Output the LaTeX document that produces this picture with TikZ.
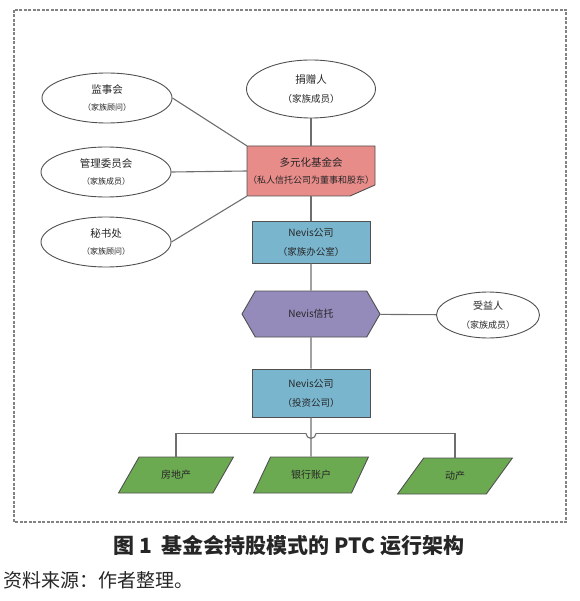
\documentclass[tikz,border=0pt]{standalone}
\usepackage{fontspec}
\setmainfont{Noto Sans CJK SC}
\usetikzlibrary{shapes.geometric,shapes.symbols}

\definecolor{fundred}{RGB}{232,140,138}
\definecolor{officeblue}{RGB}{122,181,206}
\definecolor{trustpurple}{RGB}{149,139,186}
\definecolor{assetgreen}{RGB}{108,170,82}
\definecolor{edgegray}{RGB}{80,80,80}
\definecolor{linegray}{RGB}{110,110,110}
\definecolor{framegray}{RGB}{130,130,130}

\tikzset{
  every node/.style={text=black!85},
  oval/.style={ellipse, draw=edgegray, line width=0.9pt, fill=white,
    minimum width=130pt, minimum height=50pt, inner sep=0pt, align=center,
    font=\fontsize{10.5}{17}\selectfont},
  fundbox/.style={rectangle, minimum width=128pt, minimum height=50pt,
    inner sep=0pt, align=center, font=\fontsize{10.5}{17}\selectfont},
  fundshape/.style={draw=edgegray, line width=0.9pt, fill=fundred},
  bluebox/.style={rectangle, draw=edgegray, line width=0.9pt, fill=officeblue,
    minimum width=118pt, minimum height=42pt, inner sep=0pt, align=center,
    font=\fontsize{10}{19}\selectfont},
  trustbox/.style={signal, signal to=east and west, signal pointer angle=120,
    draw=edgegray, line width=0.9pt, fill=trustpurple,
    minimum width=138pt, minimum height=46pt, inner sep=0pt,
    font=\fontsize{10}{12}\selectfont},
  assetbox/.style={trapezium, trapezium left angle=48, trapezium right angle=132,
    trapezium stretches=true, draw=edgegray, line width=0.9pt, fill=assetgreen,
    minimum width=115pt, minimum height=36pt, inner sep=0pt,
    font=\fontsize{10}{12}\selectfont},
  link/.style={draw=linegray, line width=1.1pt}
}

\begin{document}
\begin{tikzpicture}[x=1pt, y=-1pt]
  \useasboundingbox (0,0) rectangle (579,601);

  % Frame
  \draw[framegray, line width=2.2pt, dash pattern=on 3pt off 1.5pt] (14,10) rectangle (566,522);

  % Left column
  \node[oval] (board) at (107,98) {监事会\\{\fontsize{8}{10}\selectfont （家族顾问）}};
  \node[oval] (mgmt) at (106,172) {管理委员会\\{\fontsize{8}{10}\selectfont （家族成员）}};
  \node[oval] (secr) at (106,242) {秘书处\\{\fontsize{8}{10}\selectfont （家族顾问）}};

  % Main column
  \node[oval, minimum width=129pt, minimum height=58pt,
    font=\fontsize{10.5}{19}\selectfont] (donor) at (311,89) {捐赠人\\{\fontsize{9.5}{11}\selectfont （家族成员）}};
  % foundation box with cut corner
  \coordinate (fundc) at (311,171);
  \filldraw[fundshape] ([shift={(-64,-25)}]fundc) -- ([shift={(64,-25)}]fundc)
    -- ([shift={(64,14)}]fundc) -- ([shift={(39,25)}]fundc)
    -- ([shift={(-64,25)}]fundc) -- cycle;
  \node[fundbox] (fund) at (fundc) {多元化基金会\\{\fontsize{9}{11}\selectfont （私人信托公司为董事和股东）}};
  \node[bluebox] (office) at (311,242) {Nevis公司\\{\fontsize{9.5}{11}\selectfont （家族办公室）}};
  \node[trustbox] (trust) at (311,314) {Nevis信托};
  \node[oval, minimum width=103pt, minimum height=46pt,
    font=\fontsize{10}{19}\selectfont] (benef) at (488,315) {受益人\\{\fontsize{9}{11}\selectfont （家族成员）}};
  \node[bluebox, minimum height=48pt] (invest) at (311,393) {Nevis公司\\{\fontsize{9.5}{11}\selectfont （投资公司）}};

  % Assets
  \node[assetbox] (estate) at (176,475) {房地产};
  \node[assetbox] (bank) at (311,475) {银行账户};
  \node[assetbox] (movable) at (455,476) {动产};

  % Connectors
  \draw[link] (board.east) -- (fund.north west);
  \draw[link] (mgmt.east) -- (fund.west);
  \draw[link] (secr.east) -- (fund.south west);
  \draw[link] (donor) -- (fund);
  \draw[link] (fund.south) -- (office.north);
  \draw[link] (office) -- (trust);
  \draw[link] (trust) -- (benef);
  \draw[link] (trust) -- (invest);
  \draw[link] (invest.south) -- (bank.north);
  \draw[link] (invest.south) ++(-5,16) -| (estate.north);
  \draw[link] (invest.south) ++(5,16) -| (movable.north);
  \draw[link] (invest.south) ++(-5,16) arc[start angle=180, end angle=0, radius=5];

  % Caption
  \node[font=\bfseries\fontsize{21}{24}\selectfont] (caption) at (289,546) {图 1\ \ 基金会持股模式的 PTC 运行架构};
  \node[anchor=west, font=\fontsize{19}{22}\selectfont] (source) at (0,580) {资料来源：作者整理。};
\end{tikzpicture}
\end{document}
